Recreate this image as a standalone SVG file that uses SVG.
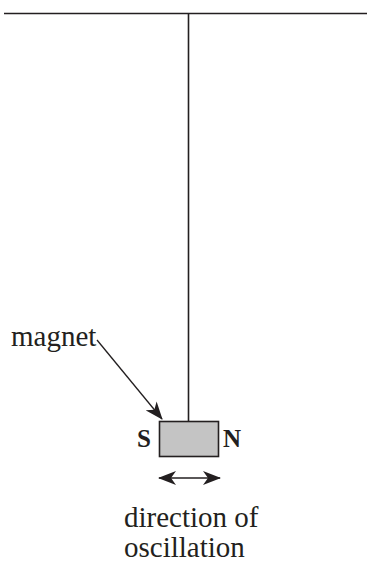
<svg xmlns="http://www.w3.org/2000/svg" width="367" height="566" viewBox="0 0 367 566">
<style>
.ln{stroke:#231f20;stroke-width:1.6;fill:none}
.t{font-family:"Liberation Serif","Times New Roman",serif;fill:#231f20}
</style>
<defs>
<marker id="ah" viewBox="0 0 18 14" refX="17" refY="7" markerWidth="18" markerHeight="14" markerUnits="userSpaceOnUse" orient="auto-start-reverse">
<path d="M0,0 L18,7 L0,14 L5,7 Z" fill="#231f20"/>
</marker>
</defs>
<g id="support">
<line class="ln" x1="4" y1="13.5" x2="367" y2="13.5"/>
</g>
<g id="connectors">
<line class="ln" x1="188.5" y1="14" x2="188.5" y2="422"/>
<line class="ln" style="stroke-width:1.3" x1="97" y1="340" x2="162" y2="419" marker-end="url(#ah)"/>
<line class="ln" style="stroke-width:1.3" x1="159" y1="478" x2="220" y2="478" marker-start="url(#ah)" marker-end="url(#ah)"/>
</g>
<g id="magnet">
<rect x="159.5" y="421.5" width="59" height="35" fill="#c4c4c4" stroke="#231f20" stroke-width="1.6"/>
<text class="t" x="137" y="447" font-size="25" font-weight="bold">S</text>
<text class="t" x="223" y="447" font-size="25" font-weight="bold">N</text>
</g>
<g id="labels">
<text class="t" x="11" y="346" font-size="29">magnet</text>
<text class="t" x="124" y="527" font-size="29">direction of</text>
<text class="t" x="124" y="557" font-size="29">oscillation</text>
</g>
</svg>
